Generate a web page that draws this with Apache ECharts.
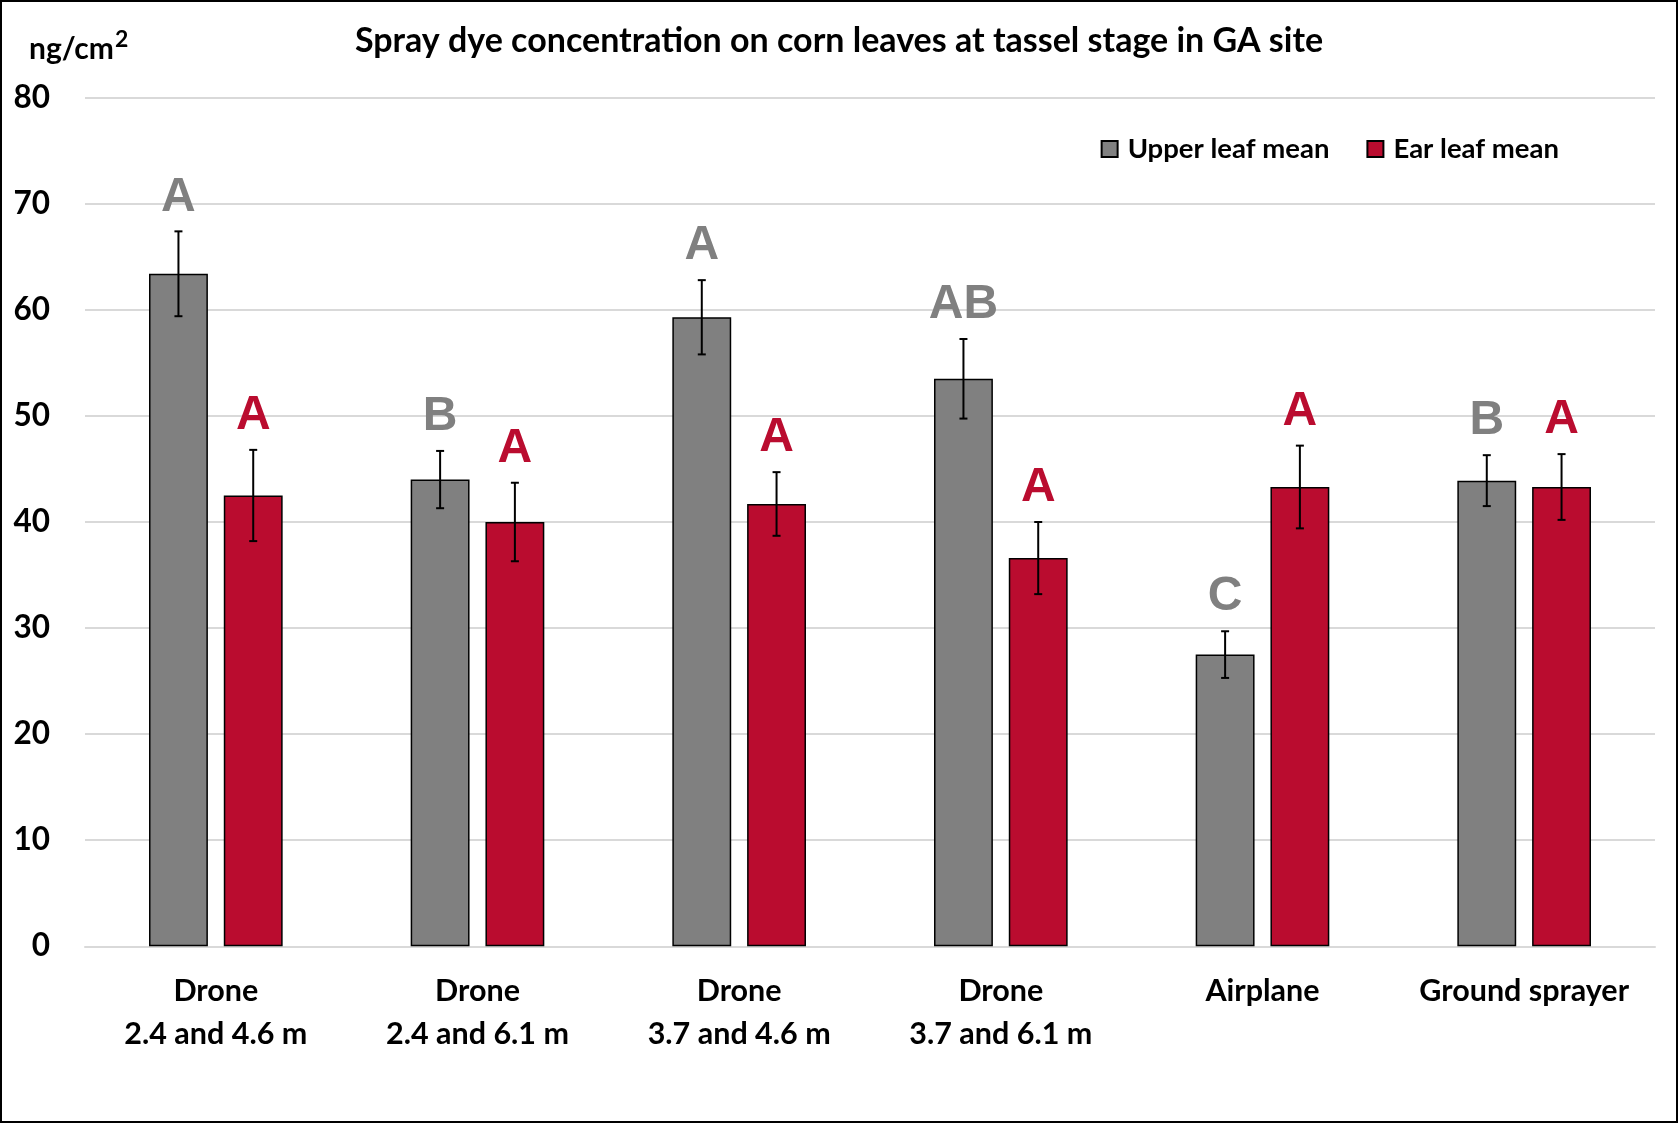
<!DOCTYPE html>
<html>
<head>
<meta charset="utf-8">
<script src="https://cdn.jsdelivr.net/npm/echarts@6/dist/echarts.min.js"></script>
<style>
html,body{margin:0;padding:0;background:#fff;}
#chart{width:1678px;height:1123px;box-sizing:border-box;border:2px solid #000;}
</style>
</head>
<body>
<div id="chart"></div>
<script>
var categories = ['Drone\n2.4 and 4.6 m','Drone\n2.4 and 6.1 m','Drone\n3.7 and 4.6 m','Drone\n3.7 and 6.1 m','Airplane','Ground sprayer'];
var upperMean = [63.4, 44.0, 59.3, 53.5, 27.5, 43.9];
var upperErr  = [4.0, 2.7, 3.5, 3.75, 2.2, 2.4];
var upperLetters = ['A','B','A','AB','C','B'];
var earMean = [42.5, 40.0, 41.7, 36.6, 43.3, 43.3];
var earErr  = [4.3, 3.7, 3.0, 3.4, 3.9, 3.1];
var earLetters = ['A','A','A','A','A','A'];
var yTicks = [0,10,20,30,40,50,60,70,80];

var GREY = '#808080', RED = '#BA0C2F';
var BAR_W = 0.225, GAP = 0.27;
var FONT = 'Lato, "Open Sans", sans-serif';

function errSeries(name, means, errs, letters, sign, color){
  return {
    type:'custom', name: name + ' err', z: 5, silent:true,
    data: means.map(function(m,i){return [i, m, errs[i]];}),
    encode:{x:0,y:1},
    renderItem:function(params, api){
      var i = api.value(0), m = api.value(1), e = api.value(2);
      var c = api.coord([i, m]);
      var band = api.size([1,0])[0];
      var bw = band*BAR_W, gap = bw*GAP;
      var x = c[0] + sign*(bw+gap)/2;
      var top = api.coord([i, m+e])[1];
      var bot = api.coord([i, m-e])[1];
      var cw = 4;
      var st = {stroke:'#000', lineWidth:2};
      return {type:'group', children:[
        {type:'line', shape:{x1:x,y1:top,x2:x,y2:bot}, style:st},
        {type:'line', shape:{x1:x-cw,y1:top,x2:x+cw,y2:top}, style:st},
        {type:'line', shape:{x1:x-cw,y1:bot,x2:x+cw,y2:bot}, style:st},
        {type:'text', x:x, y:top-10, style:{text:letters[params.dataIndex], fill:color,
          font:'bold 48px "Liberation Sans", Arial, sans-serif', align:'center', verticalAlign:'bottom'}}
      ]};
    }
  };
}

var chart = echarts.init(document.getElementById('chart'));
chart.setOption({
  animation:false,
  title:{text:'Spray dye concentration on corn leaves at tassel stage in GA site', left:'center', top:17,
    textStyle:{fontFamily:FONT, fontWeight:'bold', fontSize:34, color:'#000'}},
  legend:{right:112, top:128, itemWidth:16, itemHeight:16, itemGap:37,
    textStyle:{fontFamily:FONT, fontWeight:'bold', fontSize:27.5, color:'#000', padding:[0,0,0,5]},
    data:[{name:'Upper leaf mean', icon:'rect'},{name:'Ear leaf mean', icon:'rect'}]},
  graphic:[{type:'text', left:27, top:26, style:{
    text:'{b|ng/cm}{s|2}',
    rich:{b:{font:'bold 30px Lato, sans-serif', fill:'#000', verticalAlign:'bottom', lineHeight:36},
          s:{font:'bold 23px Lato, sans-serif', fill:'#000', verticalAlign:'top', lineHeight:36, padding:[0,0,12,1]}},
    fill:'#000'}}],
  grid:{left:83, right:21, top:95.7, bottom:174.7, containLabel:false},
  xAxis:{type:'category', data:categories,
    axisLine:{lineStyle:{color:'#d9d9d9', width:2}}, axisTick:{show:false},
    axisLabel:{fontFamily:FONT, fontWeight:'bold', fontSize:30.5, color:'#000', lineHeight:42.5, margin:24, interval:0}},
  yAxis:{type:'value', min:yTicks[0], max:yTicks[yTicks.length-1], interval:10,
    axisLine:{show:false}, axisTick:{show:false},
    splitLine:{lineStyle:{color:'#d9d9d9', width:2}},
    axisLabel:{fontFamily:FONT, fontWeight:'bold', fontSize:31.5, color:'#000', margin:35}},
  series:[
    {type:'bar', name:'Upper leaf mean', data:upperMean, barWidth:(BAR_W*100)+'%', barGap:(GAP*100)+'%',
      itemStyle:{color:GREY, borderColor:'#000', borderWidth:1.5}},
    {type:'bar', name:'Ear leaf mean', data:earMean, barWidth:(BAR_W*100)+'%',
      itemStyle:{color:RED, borderColor:'#000', borderWidth:1.5}},
    errSeries('Upper leaf mean', upperMean, upperErr, upperLetters, -1, GREY),
    errSeries('Ear leaf mean', earMean, earErr, earLetters, 1, RED)
  ]
});
</script>
</body>
</html>
